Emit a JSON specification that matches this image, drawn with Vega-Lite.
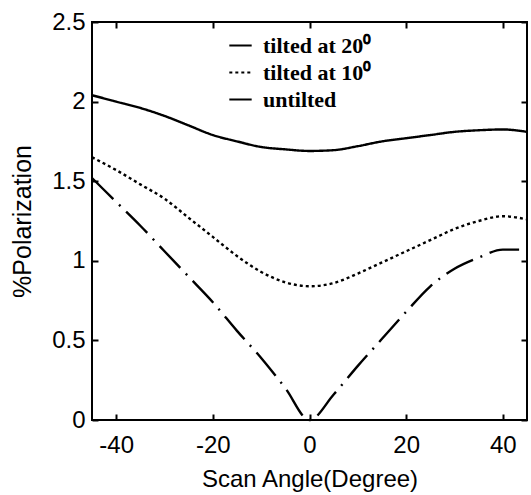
{
  "$schema": "https://vega.github.io/schema/vega-lite/v6.json",
  "width": 435,
  "height": 398,
  "autosize": "none",
  "padding": {"left": 92, "top": 22, "right": 4, "bottom": 75},
  "background": "white",
  "config": {
    "view": {"stroke": "black", "strokeWidth": 2},
    "axis": {
      "grid": false,
      "domain": false,
      "tickSize": 6,
      "offset": -6,
      "tickColor": "black",
      "tickWidth": 2,
      "labelFont": "Liberation Sans",
      "labelFontSize": 24,
      "labelColor": "black",
      "titleFont": "Liberation Sans",
      "titleFontSize": 24,
      "titleFontWeight": "normal",
      "titleColor": "black"
    }
  },
  "data": {
    "values": [
      {"series": "tilted at 20⁰", "angle": -45, "value": 2.04},
      {"series": "tilted at 20⁰", "angle": -40, "value": 2.0},
      {"series": "tilted at 20⁰", "angle": -35, "value": 1.96},
      {"series": "tilted at 20⁰", "angle": -30, "value": 1.91},
      {"series": "tilted at 20⁰", "angle": -25, "value": 1.85},
      {"series": "tilted at 20⁰", "angle": -20, "value": 1.79},
      {"series": "tilted at 20⁰", "angle": -15, "value": 1.75},
      {"series": "tilted at 20⁰", "angle": -10, "value": 1.715},
      {"series": "tilted at 20⁰", "angle": -5, "value": 1.70},
      {"series": "tilted at 20⁰", "angle": 0, "value": 1.69},
      {"series": "tilted at 20⁰", "angle": 5, "value": 1.695},
      {"series": "tilted at 20⁰", "angle": 10, "value": 1.72},
      {"series": "tilted at 20⁰", "angle": 15, "value": 1.75},
      {"series": "tilted at 20⁰", "angle": 20, "value": 1.77},
      {"series": "tilted at 20⁰", "angle": 25, "value": 1.79},
      {"series": "tilted at 20⁰", "angle": 30, "value": 1.81},
      {"series": "tilted at 20⁰", "angle": 35, "value": 1.82},
      {"series": "tilted at 20⁰", "angle": 40, "value": 1.825},
      {"series": "tilted at 20⁰", "angle": 45, "value": 1.81},
      {"series": "tilted at 10⁰", "angle": -45, "value": 1.65},
      {"series": "tilted at 10⁰", "angle": -40, "value": 1.57},
      {"series": "tilted at 10⁰", "angle": -35, "value": 1.48},
      {"series": "tilted at 10⁰", "angle": -30, "value": 1.39},
      {"series": "tilted at 10⁰", "angle": -25, "value": 1.27},
      {"series": "tilted at 10⁰", "angle": -20, "value": 1.15},
      {"series": "tilted at 10⁰", "angle": -15, "value": 1.03},
      {"series": "tilted at 10⁰", "angle": -10, "value": 0.93},
      {"series": "tilted at 10⁰", "angle": -5, "value": 0.865},
      {"series": "tilted at 10⁰", "angle": 0, "value": 0.84},
      {"series": "tilted at 10⁰", "angle": 5, "value": 0.86},
      {"series": "tilted at 10⁰", "angle": 10, "value": 0.92},
      {"series": "tilted at 10⁰", "angle": 15, "value": 0.99},
      {"series": "tilted at 10⁰", "angle": 20, "value": 1.06},
      {"series": "tilted at 10⁰", "angle": 25, "value": 1.13},
      {"series": "tilted at 10⁰", "angle": 30, "value": 1.20},
      {"series": "tilted at 10⁰", "angle": 35, "value": 1.25},
      {"series": "tilted at 10⁰", "angle": 40, "value": 1.28},
      {"series": "tilted at 10⁰", "angle": 45, "value": 1.26},
      {"series": "untilted", "angle": -45, "value": 1.52},
      {"series": "untilted", "angle": -40, "value": 1.37},
      {"series": "untilted", "angle": -35, "value": 1.22},
      {"series": "untilted", "angle": -30, "value": 1.06},
      {"series": "untilted", "angle": -25, "value": 0.90},
      {"series": "untilted", "angle": -20, "value": 0.74},
      {"series": "untilted", "angle": -15, "value": 0.56},
      {"series": "untilted", "angle": -10, "value": 0.39},
      {"series": "untilted", "angle": -5, "value": 0.20},
      {"series": "untilted", "angle": 0, "value": 0.0},
      {"series": "untilted", "angle": 5, "value": 0.16},
      {"series": "untilted", "angle": 10, "value": 0.34},
      {"series": "untilted", "angle": 15, "value": 0.51},
      {"series": "untilted", "angle": 20, "value": 0.68},
      {"series": "untilted", "angle": 25, "value": 0.84},
      {"series": "untilted", "angle": 30, "value": 0.95},
      {"series": "untilted", "angle": 35, "value": 1.02},
      {"series": "untilted", "angle": 40, "value": 1.07},
      {"series": "untilted", "angle": 45, "value": 1.07}
    ]
  },
  "layer": [
    {
      "mark": {"type": "line", "color": "black", "strokeWidth": 2.4, "interpolate": "monotone"},
      "encoding": {
        "x": {
          "field": "angle", "type": "quantitative",
          "scale": {"domain": [-45, 45], "nice": false, "zero": false},
          "axis": {"orient": "bottom", "title": "Scan Angle(Degree)", "values": [-40, -20, 0, 20, 40], "labelExpr": "toString(datum.value)", "labelPadding": 13, "titlePadding": 10}
        },
        "y": {
          "field": "value", "type": "quantitative",
          "scale": {"domain": [0, 2.5], "nice": false},
          "axis": {"orient": "left", "title": "%Polarization", "values": [0, 0.5, 1, 1.5, 2, 2.5], "labelExpr": "toString(datum.value)", "labelPadding": 7, "titlePadding": 16, "titleFontSize": 25}
        },
        "strokeDash": {
          "field": "series", "type": "nominal",
          "scale": {"domain": ["tilted at 20⁰", "tilted at 10⁰", "untilted"], "range": [[1, 0], [3, 3], [30, 8, 2, 8]]},
          "legend": {
            "orient": "none", "legendX": 136, "legendY": 11, "title": null,
            "symbolType": "stroke", "symbolSize": 500, "symbolStrokeWidth": 2, "symbolStrokeColor": "black",
            "labelFont": "Liberation Serif", "labelFontWeight": "bold", "labelFontSize": 22, "labelColor": "black",
            "labelOffset": 10, "rowPadding": 3
          }
        }
      }
    },
    {
      "mark": {"type": "line", "opacity": 0},
      "encoding": {
        "detail": {"field": "series"},
        "x": {"field": "angle", "type": "quantitative", "axis": {"orient": "top", "labels": false, "title": null, "values": [-40, -20, 0, 20, 40]}},
        "y": {"field": "value", "type": "quantitative", "axis": {"orient": "right", "labels": false, "title": null, "values": [0, 0.5, 1, 1.5, 2, 2.5]}}
      }
    }
  ],
  "resolve": {"axis": {"x": "independent", "y": "independent"}}
}
